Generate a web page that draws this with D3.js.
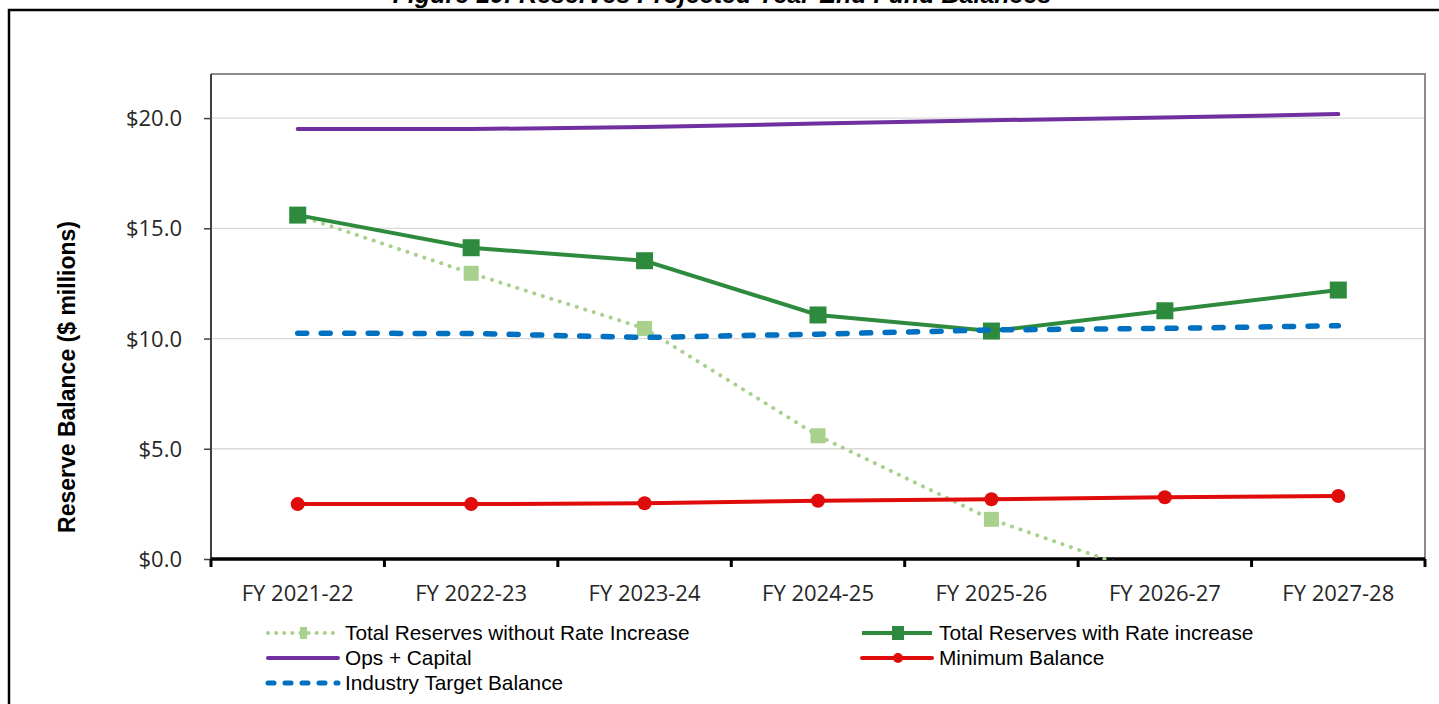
<!DOCTYPE html>
<html>
<head>
<meta charset="utf-8">
<script src="https://cdn.jsdelivr.net/npm/d3@7"></script>
<style>
  html, body { margin: 0; padding: 0; background: #fff; }
  svg { display: block; }
</style>
</head>
<body>
<svg id="chart" width="1439" height="704"></svg>
<script>
const categories = ["FY 2021-22", "FY 2022-23", "FY 2023-24", "FY 2024-25", "FY 2025-26", "FY 2026-27", "FY 2027-28"];
const withoutRate = [15.6, 12.96, 10.46, 5.59, 1.8, -0.95, -3.2];
const withRate = [15.6, 14.12, 13.53, 11.07, 10.34, 11.26, 12.2];
const opsCapital = [19.5, 19.5, 19.6, 19.75, 19.9, 20.03, 20.18];
const minimumBalance = [2.49, 2.49, 2.53, 2.64, 2.71, 2.8, 2.86];
const industryTarget = [10.24, 10.23, 10.05, 10.2, 10.39, 10.46, 10.58];
const yTicks = [0, 5, 10, 15, 20];
const yTickLabels = ["$0.0", "$5.0", "$10.0", "$15.0", "$20.0"];
const titleText = "Figure 10: Reserves Projected Year-End Fund Balances";
const yTitle = "Reserve Balance ($ millions)";

const svg = d3.select("#chart");
const L = 211, R = 1425, T = 74, B = 559;
const x = d3.scaleBand().domain(categories).range([L, R]);
const y = d3.scaleLinear().domain([0, 22]).range([B, T]);
const cx = c => x(c) + x.bandwidth() / 2;

// title (cut off at the top edge, as in the reference)
svg.append("text").attr("x", 722).attr("y", 3).attr("text-anchor", "middle")
  .attr("font-family", "Liberation Sans, Arial").attr("font-weight", "bold").attr("font-style", "italic")
  .attr("font-size", 25).attr("fill", "#000").text(titleText);

// outer frame
svg.append("rect").attr("x", 9).attr("y", 10).attr("width", 1440).attr("height", 720)
  .attr("fill", "none").attr("stroke", "#000").attr("stroke-width", 2.5);

// gridlines
svg.append("g").selectAll("line").data(yTicks.filter(d => d > 0)).join("line")
  .attr("x1", L).attr("x2", R).attr("y1", d => y(d)).attr("y2", d => y(d))
  .attr("stroke", "#d9d9d9").attr("stroke-width", 1.3);

// plot border top/right
svg.append("path").attr("d", `M${L},${T}H${R}V${B}`).attr("fill", "none")
  .attr("stroke", "#8c8c8c").attr("stroke-width", 2);

// y axis
const yAxis = d3.axisLeft(y).tickValues(yTicks).tickSize(7)
  .tickFormat((d, i) => yTickLabels[i]);
const gy = svg.append("g").attr("transform", `translate(${L},0)`).call(yAxis);
gy.select(".domain").attr("stroke", "#404040").attr("stroke-width", 2).attr("d", `M0,${T}V${B}`);
gy.selectAll(".tick line").attr("stroke", "#404040").attr("stroke-width", 1.5);
gy.selectAll(".tick text").attr("font-family", "Open Sans, sans-serif").attr("font-size", 22)
  .attr("fill", "#262626").attr("x", -29).attr("dy", "0.34em");

// y title
svg.append("text").attr("transform", `translate(75,${377}) rotate(-90)`)
  .attr("text-anchor", "middle").attr("font-family", "Liberation Sans, Arial").attr("font-weight", "bold")
  .attr("font-size", 23).attr("fill", "#000").text(yTitle);

// x axis
const xAxis = d3.axisBottom(x).tickSize(0).tickPadding(26);
const gx = svg.append("g").attr("transform", `translate(0,${B})`).call(xAxis);
gx.select(".domain").attr("stroke", "#000").attr("stroke-width", 3.5).attr("d", `M${L},0H${R}`);
gx.selectAll(".tick text").attr("font-family", "Open Sans, sans-serif").attr("font-size", 22)
  .attr("fill", "#262626");
const boundaries = categories.map(c => x(c)).concat([R]);
svg.append("g").selectAll("line").data(boundaries).join("line")
  .attr("x1", d => d).attr("x2", d => d).attr("y1", B).attr("y2", B + 8)
  .attr("stroke", "#000").attr("stroke-width", 3);

// clip
svg.append("clipPath").attr("id", "plotclip").append("rect")
  .attr("x", L).attr("y", T).attr("width", R - L).attr("height", B - T + 1);

const line = d3.line().x((d, i) => cx(categories[i])).y(d => y(d));
const plot = svg.append("g").attr("clip-path", "url(#plotclip)");

const cLight = "#a9d18e", cGreen = "#2e8b3e", cPurple = "#7030a0", cRed = "#e00b0b", cBlue = "#0070c0";

// without rate increase (dotted)
plot.append("path").datum(withoutRate).attr("d", line).attr("fill", "none")
  .attr("stroke", cLight).attr("stroke-width", 4).attr("stroke-linecap", "round")
  .attr("stroke-dasharray", "0.1 8.8");
plot.append("g").selectAll("rect").data(withoutRate).join("rect")
  .attr("x", (d, i) => cx(categories[i]) - 7.5).attr("y", d => y(d) - 7.5)
  .attr("width", 15).attr("height", 15).attr("fill", cLight);

// with rate increase
plot.append("path").datum(withRate).attr("d", line).attr("fill", "none")
  .attr("stroke", cGreen).attr("stroke-width", 4);
plot.append("g").selectAll("rect").data(withRate).join("rect")
  .attr("x", (d, i) => cx(categories[i]) - 8.5).attr("y", d => y(d) - 8.5)
  .attr("width", 17).attr("height", 17).attr("fill", cGreen);

// ops + capital
plot.append("path").datum(opsCapital).attr("d", line).attr("fill", "none")
  .attr("stroke", cPurple).attr("stroke-width", 4).attr("stroke-linecap", "round");

// minimum balance
plot.append("path").datum(minimumBalance).attr("d", line).attr("fill", "none")
  .attr("stroke", cRed).attr("stroke-width", 4);
plot.append("g").selectAll("circle").data(minimumBalance).join("circle")
  .attr("cx", (d, i) => cx(categories[i])).attr("cy", d => y(d)).attr("r", 7).attr("fill", cRed);

// industry target (dashed)
plot.append("path").datum(industryTarget).attr("d", line).attr("fill", "none")
  .attr("stroke", cBlue).attr("stroke-width", 5.5).attr("stroke-linecap", "round")
  .attr("stroke-dasharray", "9 14.5");

// legend
const legendItems = [
  { name: "Total Reserves without Rate Increase", col: 0, row: 0, color: cLight, width: 4, dash: "0.1 8", cap: "round", marker: "lsq" },
  { name: "Total Reserves with Rate increase", col: 1, row: 0, color: cGreen, width: 4, dash: null, cap: "butt", marker: "sq" },
  { name: "Ops + Capital", col: 0, row: 1, color: cPurple, width: 4, dash: null, cap: "round", marker: null },
  { name: "Minimum Balance", col: 1, row: 1, color: cRed, width: 4, dash: null, cap: "round", marker: "circle" },
  { name: "Industry Target Balance", col: 0, row: 2, color: cBlue, width: 5, dash: "6 11", cap: "round", marker: null }
];
const colX = [268, 862];
const rowY = [633, 658, 683];
const lg = svg.append("g").selectAll("g").data(legendItems).join("g")
  .attr("transform", d => `translate(${colX[d.col]},${rowY[d.row]})`);
lg.append("line").attr("x1", 0).attr("x2", 70).attr("y1", 0).attr("y2", 0)
  .attr("stroke", d => d.color).attr("stroke-width", d => d.width)
  .attr("stroke-linecap", d => d.cap).attr("stroke-dasharray", d => d.dash);
lg.filter(d => d.marker === "lsq").append("rect").attr("x", 32).attr("y", -6).attr("width", 7).attr("height", 12).attr("fill", cLight);
lg.filter(d => d.marker === "sq").append("rect").attr("x", 30).attr("y", -7).attr("width", 12).attr("height", 14).attr("fill", cGreen);
lg.filter(d => d.marker === "circle").append("circle").attr("cx", 36).attr("cy", 0).attr("r", 5).attr("fill", cRed);
lg.append("text").attr("x", 77).attr("y", 7).attr("font-family", "Liberation Sans, Arial")
  .attr("font-size", 20.8).attr("fill", "#000").text(d => d.name);
</script>
</body>
</html>
